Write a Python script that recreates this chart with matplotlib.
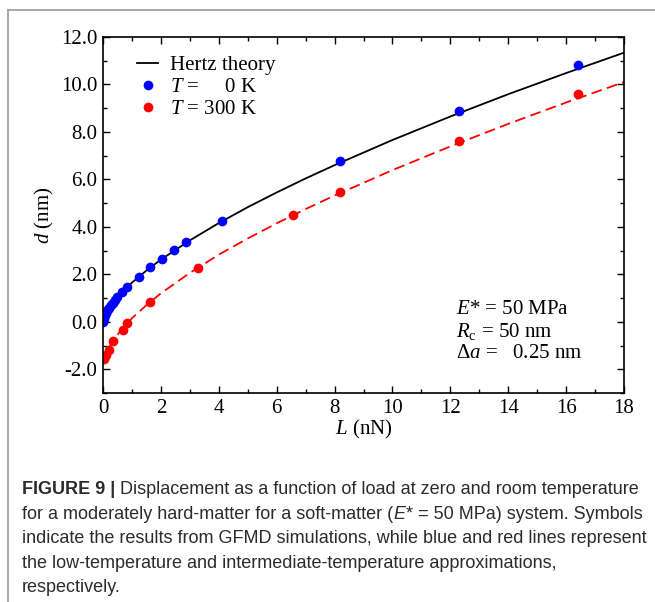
import numpy as np
import matplotlib
matplotlib.use('Agg')
import matplotlib.pyplot as plt
from matplotlib import font_manager
from matplotlib.lines import Line2D

# GFMD results, T = 0 K
L_zero = [0.0, 0.02, 0.04, 0.07, 0.10, 0.14, 0.18, 0.22, 0.27, 0.33, 0.41, 0.50,
          0.66, 0.82, 1.23, 1.64, 2.05, 2.46, 2.87, 4.10, 8.20, 12.30, 16.40]
d_zero = [0.0, 0.12, 0.19, 0.28, 0.36, 0.45, 0.53, 0.60, 0.69, 0.79, 0.91, 1.04,
          1.27, 1.46, 1.89, 2.30, 2.66, 3.01, 3.35, 4.24, 6.76, 8.89, 10.80]

# GFMD results, T = 300 K
L_room = [0.04, 0.12, 0.20, 0.36, 0.68, 0.82, 1.64, 3.28, 6.56, 8.20, 12.30, 16.40]
d_room = [-1.55, -1.40, -1.20, -0.83, -0.33, -0.07, 0.85, 2.28, 4.51, 5.46, 7.63, 9.59]

# theory curves
L_curve = [0, 0.005, 0.01, 0.02, 0.05, 0.1, 0.2, 0.3, 0.5, 0.75, 1, 1.5, 2, 3, 4,
           5, 6, 7, 8, 10, 12, 14, 16, 18]
d_hertz = [0, 0.05, 0.08, 0.12, 0.22, 0.36, 0.57, 0.74, 1.04, 1.36, 1.65, 2.16,
           2.62, 3.43, 4.16, 4.83, 5.45, 6.04, 6.60, 7.66, 8.65, 9.59, 10.48, 11.34]
d_inter = [-1.75, -1.70, -1.67, -1.62, -1.50, -1.34, -1.10, -0.89, -0.54, -0.18,
           0.15, 0.70, 1.20, 2.06, 2.83, 3.51, 4.15, 4.75, 5.32, 6.39, 7.39, 8.34,
           9.24, 10.10]

x_ticks = [0, 2, 4, 6, 8, 10, 12, 14, 16, 18]
y_ticks = [-2, 0, 2, 4, 6, 8, 10, 12]

params = [r"$E$* = 50 MPa", r"$R_{\mathrm{c}}$ = 50 nm", r"Δ$a$ =   0.25 nm"]

caption_head = "FIGURE 9 |"
caption_lines = [
    "Displacement as a function of load at zero and room temperature",
    "for a moderately hard-matter for a soft-matter (",
    "indicate the results from GFMD simulations, while blue and red lines represent",
    "the low-temperature and intermediate-temperature approximations,",
    "respectively.",
]
caption_tail2 = "* = 50 MPa) system. Symbols"

plt.rcParams['font.family'] = 'Liberation Serif'
plt.rcParams['mathtext.fontset'] = 'custom'
plt.rcParams['mathtext.rm'] = 'Liberation Serif'
plt.rcParams['mathtext.it'] = 'Liberation Serif:italic'
plt.rcParams['mathtext.bf'] = 'Liberation Serif:bold'
plt.rcParams['axes.unicode_minus'] = False

W, H = 655, 602
fig = plt.figure(figsize=(W / 100, H / 100), dpi=100)
ax = fig.add_axes([103 / W, 1 - 393 / H, 521 / W, 356 / H])

fs = 15
ax.plot(L_curve, d_hertz, color='black', lw=1.3, label='Hertz theory')
ax.plot(L_curve, d_inter, color='#ff0000', lw=1.3, dashes=(6, 3))
ax.plot(L_zero, d_zero, 'o', color='#0000ff', ms=7, mec='none', label=r"$T$ =     0 K")
ax.plot(L_room, d_room, 'o', color='#ff0000', ms=7, mec='none', label=r"$T$ = 300 K")

ax.set_xlim(0, 18)
ax.set_ylim(-3, 12)
ax.set_xticks(x_ticks)
ax.set_yticks(y_ticks)
ax.set_xticks(np.arange(0, 19, 1), minor=True)
ax.set_yticks(np.arange(-3, 13, 1), minor=True)
ax.set_xticklabels([str(v) for v in x_ticks])
ax.set_yticklabels(['%.1f' % v for v in y_ticks])
ax.tick_params(which='both', direction='in', top=True, right=True, width=1,
               labelsize=fs)
ax.tick_params(which='major', length=5)
ax.tick_params(which='minor', length=3)
ax.tick_params(axis='y', pad=4)
ax.tick_params(axis='x', pad=4)
for sp in ax.spines.values():
    sp.set_linewidth(1.2)

ax.set_xlabel(r"$L$ (nN)", fontsize=fs, labelpad=0)
ax.set_ylabel(r"$d$ (nm)", fontsize=fs, labelpad=4)

ax.legend(loc='upper left', bbox_to_anchor=(0.066, 0.948), frameon=False,
          fontsize=fs, handlelength=1.0, handletextpad=0.55, labelspacing=0.12,
          borderpad=0, borderaxespad=0, numpoints=1)

for i, s in enumerate(params):
    ax.text(12.2, 0.52 - 0.93 * i, s, fontsize=fs, va='center', ha='left')

# frame of the caption box
fig.add_artist(Line2D([8 / W, 1], [1 - 10 / H, 1 - 10 / H], color='#999999', lw=1.2))
fig.add_artist(Line2D([8 / W, 8 / W], [1 - 10 / H, 0], color='#999999', lw=1.2))

# caption font
cap_font = 'Liberation Sans'
try:
    font_manager.findfont(font_manager.FontProperties(family='Liberation Sans Narrow'),
                          fallback_to_default=False)
    cap_font = 'Liberation Sans Narrow'
except Exception:
    pass

renderer = fig.canvas.get_renderer()
cap_color = '#2b2b2b'
x0 = 22 / W
base = [494, 518.6, 543.2, 567.8, 592.4]


def put(x, y, s, size, **kw):
    t = fig.text(x, 1 - y / H, s, fontsize=size, family=cap_font, color=cap_color,
                 va='baseline', ha='left', **kw)
    return t


def width(t):
    return t.get_window_extent(renderer).width / W


# fit caption size to the width of the first line
size = 12
probe1 = put(x0, base[0], caption_head, size, fontweight='bold')
probe2 = put(x0, base[0], caption_lines[0], size)
gap = 4.5 / W
total = width(probe1) + gap + width(probe2)
probe1.remove()
probe2.remove()
size = size * (619 / W) / total
gap = gap * size / 12

t = put(x0, base[0], caption_head, size, fontweight='bold')
put(x0 + width(t) + gap, base[0], caption_lines[0], size)
t = put(x0, base[1], caption_lines[1], size)
x = x0 + width(t)
t = put(x, base[1], 'E', size, style='italic')
put(x + width(t) + 1 / W, base[1], caption_tail2, size)
for i in range(2, 5):
    put(x0, base[i], caption_lines[i], size)

fig.savefig('out.png', dpi=100)
